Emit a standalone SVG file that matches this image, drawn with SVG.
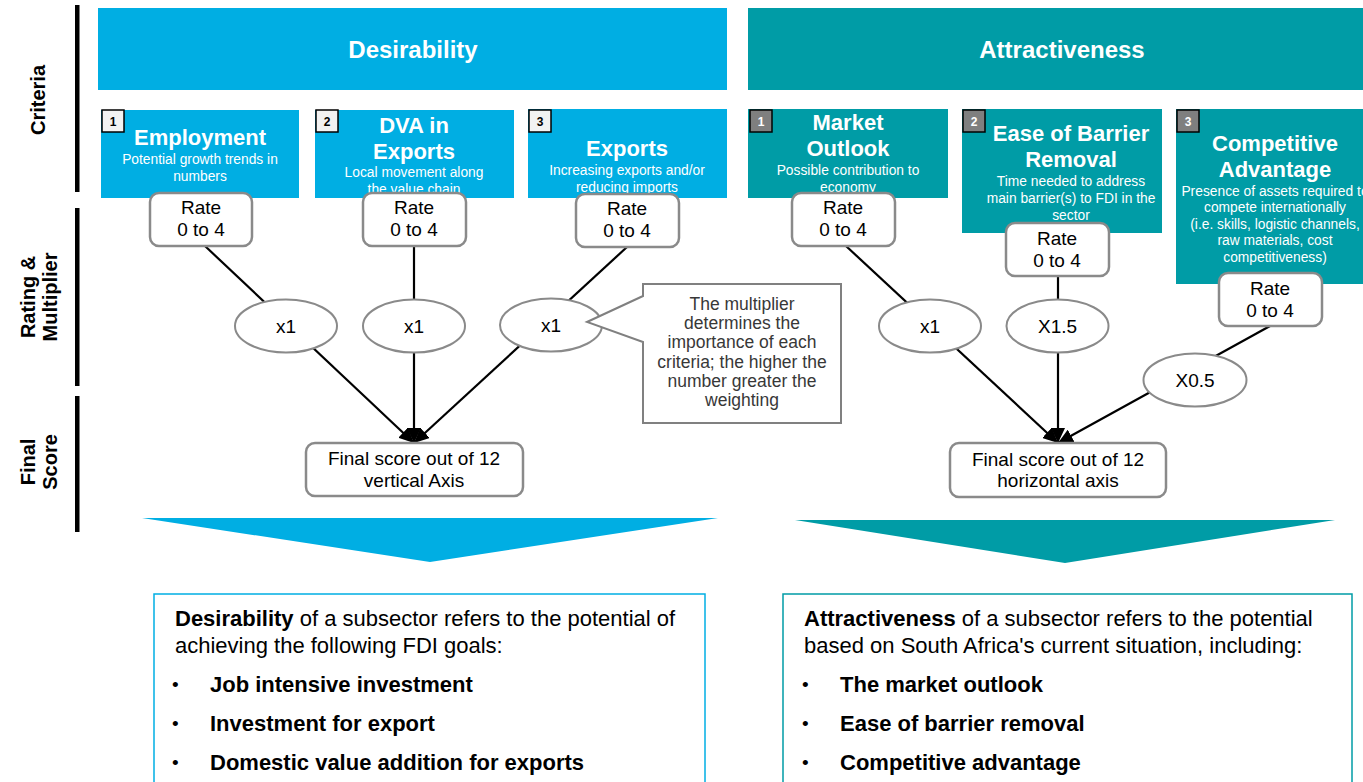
<svg xmlns="http://www.w3.org/2000/svg" width="1363" height="782" viewBox="0 0 1363 782">
  <style>
    text { font-family: "Liberation Sans", Arial, sans-serif; }
    .side { font-size: 20px; font-weight: bold; fill: #000; text-anchor: middle; }
    .bar { fill: #000; }
    .hdr { font-size: 24px; font-weight: bold; fill: #fff; text-anchor: middle; }
    .blue { fill: #00AEE3; }
    .teal { fill: #009CA6; }
    .ttl { font-size: 22px; font-weight: bold; fill: #fff; text-anchor: middle; }
    .sub { font-size: 13.8px; fill: #fff; text-anchor: middle; }
    .numL { fill: #F2F2F2; stroke: #000; stroke-width: 1.5; }
    .numR { fill: #7F7F7F; stroke: #000; stroke-width: 1.5; }
    .numtL { font-size: 12px; font-weight: bold; fill: #000; text-anchor: middle; }
    .numtR { font-size: 12px; font-weight: bold; fill: #fff; text-anchor: middle; }
    .rate { fill: #fff; stroke: #8A8A8A; stroke-width: 2.5; }
    .lbl { font-size: 19px; fill: #000; text-anchor: middle; }
    .mult { fill: #fff; stroke: #8A8A8A; stroke-width: 2; }
    .conn { stroke: #000; stroke-width: 2.2; fill: none; }
    .note { fill: #fff; stroke: #808080; stroke-width: 2; }
    .notet { font-size: 17.5px; fill: #383838; text-anchor: middle; }
    .body { font-size: 22px; fill: #000; }
    .dot { font-size: 19px; fill: #000; }
    .b { font-weight: bold; }
  </style>
  <defs>
    <marker id="arrow" markerUnits="userSpaceOnUse" markerWidth="15" markerHeight="14" refX="15" refY="7" orient="auto">
      <path d="M0,0 L15,7 L0,14 Z" fill="#000"/>
    </marker>
  </defs>

  <!-- Row labels on the left edge -->
  <g id="row-labels">
    <rect class="bar" x="75" y="5" width="4.5" height="187"/>
    <rect class="bar" x="75" y="208" width="4.5" height="178"/>
    <rect class="bar" x="75" y="396" width="4.5" height="136"/>
    <text class="side" transform="translate(45,100) rotate(-90)">Criteria</text>
    <text class="side" transform="translate(35,297) rotate(-90)">Rating &amp;</text>
    <text class="side" transform="translate(57,297) rotate(-90)">Multiplier</text>
    <text class="side" transform="translate(35,462) rotate(-90)">Final</text>
    <text class="side" transform="translate(57,462) rotate(-90)">Score</text>
  </g>

  <!-- Column headers -->
  <g id="hdr-desirability">
    <rect class="blue" x="98" y="8" width="629" height="82"/>
    <text class="hdr" x="413" y="58">Desirability</text>
  </g>
  <g id="hdr-attractiveness">
    <rect class="teal" x="748" y="8" width="615" height="82"/>
    <text class="hdr" x="1062" y="58">Attractiveness</text>
  </g>

  <!-- Connectors (drawn beneath the nodes) -->
  <g id="connectors">
    <line class="conn" x1="205" y1="246" x2="414" y2="443" marker-end="url(#arrow)"/>
    <line class="conn" x1="414" y1="246" x2="414" y2="443" marker-end="url(#arrow)"/>
    <line class="conn" x1="627" y1="247" x2="414" y2="443" marker-end="url(#arrow)"/>
    <line class="conn" x1="846" y1="246" x2="1058" y2="443" marker-end="url(#arrow)"/>
    <line class="conn" x1="1058" y1="276" x2="1058" y2="443" marker-end="url(#arrow)"/>
    <line class="conn" x1="1270" y1="326" x2="1058" y2="443" marker-end="url(#arrow)"/>
  </g>

  <!-- Desirability criteria -->
  <g id="crit-employment">
    <rect class="blue" x="101" y="110" width="198" height="88"/>
    <rect class="numL" x="102" y="110" width="22" height="22"/>
    <text class="numtL" x="113" y="126">1</text>
    <text class="ttl" x="200" y="145">Employment</text>
    <text class="sub" x="200" y="164">Potential growth trends in</text>
    <text class="sub" x="200" y="181">numbers</text>
  </g>
  <g id="crit-dva">
    <rect class="blue" x="315" y="110" width="199" height="88"/>
    <rect class="numL" x="316" y="110" width="22" height="22"/>
    <text class="numtL" x="327" y="126">2</text>
    <text class="ttl" x="414" y="133">DVA in</text>
    <text class="ttl" x="414" y="159">Exports</text>
    <text class="sub" x="414" y="177">Local movement along</text>
    <text class="sub" x="414" y="194">the value chain</text>
  </g>
  <g id="crit-exports">
    <rect class="blue" x="528" y="109" width="199" height="89"/>
    <rect class="numL" x="529" y="110" width="22" height="22"/>
    <text class="numtL" x="540" y="126">3</text>
    <text class="ttl" x="627" y="156">Exports</text>
    <text class="sub" x="627" y="175">Increasing exports and/or</text>
    <text class="sub" x="627" y="192">reducing imports</text>
  </g>

  <!-- Attractiveness criteria -->
  <g id="crit-market">
    <rect class="teal" x="748" y="109" width="200" height="89"/>
    <rect class="numR" x="750" y="110" width="22" height="22"/>
    <text class="numtR" x="761" y="126">1</text>
    <text class="ttl" x="848" y="130">Market</text>
    <text class="ttl" x="848" y="156">Outlook</text>
    <text class="sub" x="848" y="175">Possible contribution to</text>
    <text class="sub" x="848" y="192">economy</text>
  </g>
  <g id="crit-barrier">
    <rect class="teal" x="962" y="109" width="200" height="124"/>
    <rect class="numR" x="963" y="110" width="22" height="22"/>
    <text class="numtR" x="974" y="126">2</text>
    <text class="ttl" x="1071" y="141">Ease of Barrier</text>
    <text class="ttl" x="1071" y="167">Removal</text>
    <text class="sub" x="1071" y="186">Time needed to address</text>
    <text class="sub" x="1071" y="203">main barrier(s) to FDI in the</text>
    <text class="sub" x="1071" y="220">sector</text>
  </g>
  <g id="crit-competitive">
    <rect class="teal" x="1176" y="109" width="190" height="175"/>
    <rect class="numR" x="1177" y="110" width="22" height="22"/>
    <text class="numtR" x="1188" y="126">3</text>
    <text class="ttl" x="1275" y="151">Competitive</text>
    <text class="ttl" x="1275" y="177">Advantage</text>
    <text class="sub" x="1275" y="196">Presence of assets required to</text>
    <text class="sub" x="1275" y="212">compete internationally</text>
    <text class="sub" x="1275" y="229">(i.e. skills, logistic channels,</text>
    <text class="sub" x="1275" y="245">raw materials, cost</text>
    <text class="sub" x="1275" y="262">competitiveness)</text>
  </g>

  <!-- Rating boxes -->
  <g id="rate-employment">
    <rect class="rate" x="150" y="193" width="102" height="53" rx="9"/>
    <text class="lbl" x="201" y="214">Rate</text>
    <text class="lbl" x="201" y="236">0 to 4</text>
  </g>
  <g id="rate-dva">
    <rect class="rate" x="363" y="193" width="103" height="53" rx="9"/>
    <text class="lbl" x="414" y="214">Rate</text>
    <text class="lbl" x="414" y="236">0 to 4</text>
  </g>
  <g id="rate-exports">
    <rect class="rate" x="576" y="194" width="103" height="53" rx="9"/>
    <text class="lbl" x="627" y="215">Rate</text>
    <text class="lbl" x="627" y="237">0 to 4</text>
  </g>
  <g id="rate-market">
    <rect class="rate" x="792" y="193" width="103" height="53" rx="9"/>
    <text class="lbl" x="843" y="214">Rate</text>
    <text class="lbl" x="843" y="236">0 to 4</text>
  </g>
  <g id="rate-barrier">
    <rect class="rate" x="1006" y="223" width="103" height="53" rx="9"/>
    <text class="lbl" x="1057" y="245">Rate</text>
    <text class="lbl" x="1057" y="267">0 to 4</text>
  </g>
  <g id="rate-competitive">
    <rect class="rate" x="1219" y="273" width="103" height="53" rx="9"/>
    <text class="lbl" x="1270" y="295">Rate</text>
    <text class="lbl" x="1270" y="317">0 to 4</text>
  </g>

  <!-- Multipliers -->
  <g id="mult-employment">
    <ellipse class="mult" cx="286" cy="326" rx="51" ry="26.5"/>
    <text class="lbl" x="286" y="333">x1</text>
  </g>
  <g id="mult-dva">
    <ellipse class="mult" cx="414" cy="326" rx="51" ry="26.5"/>
    <text class="lbl" x="414" y="333">x1</text>
  </g>
  <g id="mult-exports">
    <ellipse class="mult" cx="551" cy="325" rx="51" ry="26.5"/>
    <text class="lbl" x="551" y="332">x1</text>
  </g>
  <g id="mult-market">
    <ellipse class="mult" cx="930" cy="326" rx="51" ry="26.5"/>
    <text class="lbl" x="930" y="333">x1</text>
  </g>
  <g id="mult-barrier">
    <ellipse class="mult" cx="1057.5" cy="326" rx="51" ry="26.5"/>
    <text class="lbl" x="1057.5" y="333">X1.5</text>
  </g>
  <g id="mult-competitive">
    <ellipse class="mult" cx="1195" cy="380" rx="51.5" ry="26.5"/>
    <text class="lbl" x="1195" y="387">X0.5</text>
  </g>

  <!-- Note on the multiplier -->
  <g id="note-multiplier">
    <path class="note" d="M643,284 H841 V423 H643 V342 L587,322 L643,296 Z"/>
    <text class="notet" x="742" y="310">The multiplier</text>
    <text class="notet" x="742" y="329">determines the</text>
    <text class="notet" x="742" y="348">importance of each</text>
    <text class="notet" x="742" y="368">criteria; the higher the</text>
    <text class="notet" x="742" y="387">number greater the</text>
    <text class="notet" x="742" y="406">weighting</text>
  </g>

  <!-- Final scores -->
  <g id="score-vertical">
    <rect class="rate" x="306" y="443" width="217" height="53" rx="9"/>
    <text class="lbl" x="414" y="465">Final score out of 12</text>
    <text class="lbl" x="414" y="487">vertical Axis</text>
  </g>
  <g id="score-horizontal">
    <rect class="rate" x="950" y="443" width="216" height="54" rx="9"/>
    <text class="lbl" x="1058" y="466">Final score out of 12</text>
    <text class="lbl" x="1058" y="487">horizontal axis</text>
  </g>

  <!-- Downward pointers -->
  <g id="pointer-desirability">
    <polygon class="blue" points="142,518 718,518 430,562"/>
  </g>
  <g id="pointer-attractiveness">
    <polygon class="teal" points="795,520 1335,520 1065,563"/>
  </g>

  <!-- Definitions -->
  <g id="def-desirability">
    <rect x="154" y="594" width="551" height="200" fill="none" stroke="#00AEE3" stroke-width="1.5"/>
    <text class="body" x="175" y="626"><tspan class="b">Desirability</tspan> of a subsector refers to the potential of</text>
    <text class="body" x="175" y="653">achieving the following FDI goals:</text>
    <text class="dot" x="172" y="691">•</text>
    <text class="body b" x="210" y="692">Job intensive investment</text>
    <text class="dot" x="172" y="730">•</text>
    <text class="body b" x="210" y="731">Investment for export</text>
    <text class="dot" x="172" y="769">•</text>
    <text class="body b" x="210" y="770">Domestic value addition for exports</text>
  </g>
  <g id="def-attractiveness">
    <rect x="783" y="594" width="569" height="200" fill="none" stroke="#009CA6" stroke-width="1.5"/>
    <text class="body" x="804" y="626"><tspan class="b">Attractiveness</tspan> of a subsector refers to the potential</text>
    <text class="body" x="804" y="653">based on South Africa's current situation, including:</text>
    <text class="dot" x="802" y="691">•</text>
    <text class="body b" x="840" y="692">The market outlook</text>
    <text class="dot" x="802" y="730">•</text>
    <text class="body b" x="840" y="731">Ease of barrier removal</text>
    <text class="dot" x="802" y="769">•</text>
    <text class="body b" x="840" y="770">Competitive advantage</text>
  </g>
</svg>
